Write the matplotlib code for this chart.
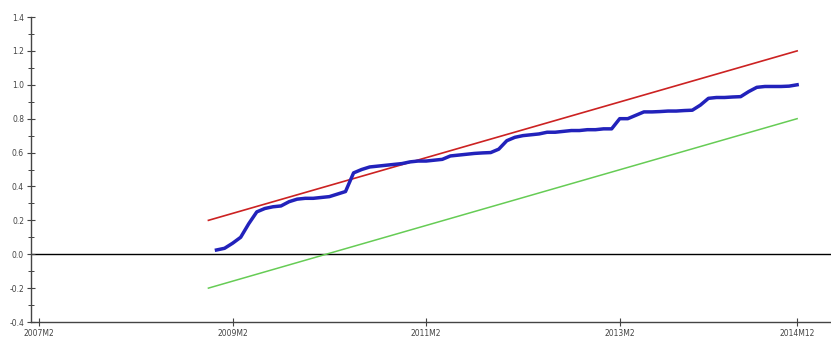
import matplotlib
matplotlib.use("Agg")
import matplotlib.pyplot as plt
from matplotlib.ticker import MultipleLocator

# month index: 0 = 2007M1
tick_months = [1, 25, 49, 73, 95]
tick_labels = ["2007M2", "2009M2", "2011M2", "2013M2", "2014M12"]

# CUSUM of squares, 2008M12 .. 2014M12
cusum_start = 23
cusum_sq = [
    0.025, 0.035, 0.065, 0.10, 0.18, 0.25, 0.27, 0.28, 0.285, 0.31,
    0.325, 0.33, 0.33, 0.335, 0.34, 0.355, 0.37, 0.48, 0.50, 0.515,
    0.52, 0.525, 0.53, 0.535, 0.545, 0.55, 0.55, 0.555, 0.56, 0.58,
    0.585, 0.59, 0.595, 0.598, 0.60, 0.62, 0.67, 0.69, 0.70, 0.705,
    0.71, 0.72, 0.72, 0.725, 0.73, 0.73, 0.735, 0.735, 0.74, 0.74,
    0.80, 0.80, 0.82, 0.84, 0.84, 0.842, 0.845, 0.845, 0.848, 0.85,
    0.88, 0.92, 0.925, 0.925, 0.928, 0.93, 0.96, 0.985, 0.99, 0.99,
    0.99, 0.992, 1.00,
]

# 5% significance bounds (straight lines), 2008M11 .. 2014M12
bound_months = [22, 95]
upper_bound = [0.2, 1.2]
lower_bound = [-0.2, 0.8]

fig = plt.figure(figsize=(8.31, 3.43), dpi=100)
ax = fig.add_axes([0.0373, 0.0612, 0.9627, 0.8892])

months = list(range(cusum_start, cusum_start + len(cusum_sq)))
ax.axhline(0.0, color="black", lw=1.0, zorder=1)
ax.plot(bound_months, upper_bound, color="#cc2222", lw=1.2, zorder=2)
ax.plot(bound_months, lower_bound, color="#66cc55", lw=1.1, zorder=2)
ax.plot(months, cusum_sq, color="#2222bb", lw=2.5, zorder=3)

ax.set_xlim(0, 99.2)
ax.set_ylim(-0.4, 1.4)

for side in ("top", "right"):
    ax.spines[side].set_visible(False)
for side in ("left", "bottom"):
    ax.spines[side].set_color("#444444")
    ax.spines[side].set_linewidth(1.0)

ax.set_xticks(tick_months)
ax.set_xticklabels(tick_labels)
ax.yaxis.set_major_locator(MultipleLocator(0.2))
ax.yaxis.set_minor_locator(MultipleLocator(0.1))
ax.yaxis.set_major_formatter(plt.FuncFormatter(lambda v, p: f"{v:.1f}"))

ax.tick_params(axis="both", which="major", direction="inout", length=6,
               width=0.8, color="#444444", labelsize=5.5, labelcolor="#444444",
               pad=2)
ax.tick_params(axis="y", which="minor", direction="inout", length=4,
               width=0.7, color="#444444")

fig.savefig("out.png", dpi=100)
